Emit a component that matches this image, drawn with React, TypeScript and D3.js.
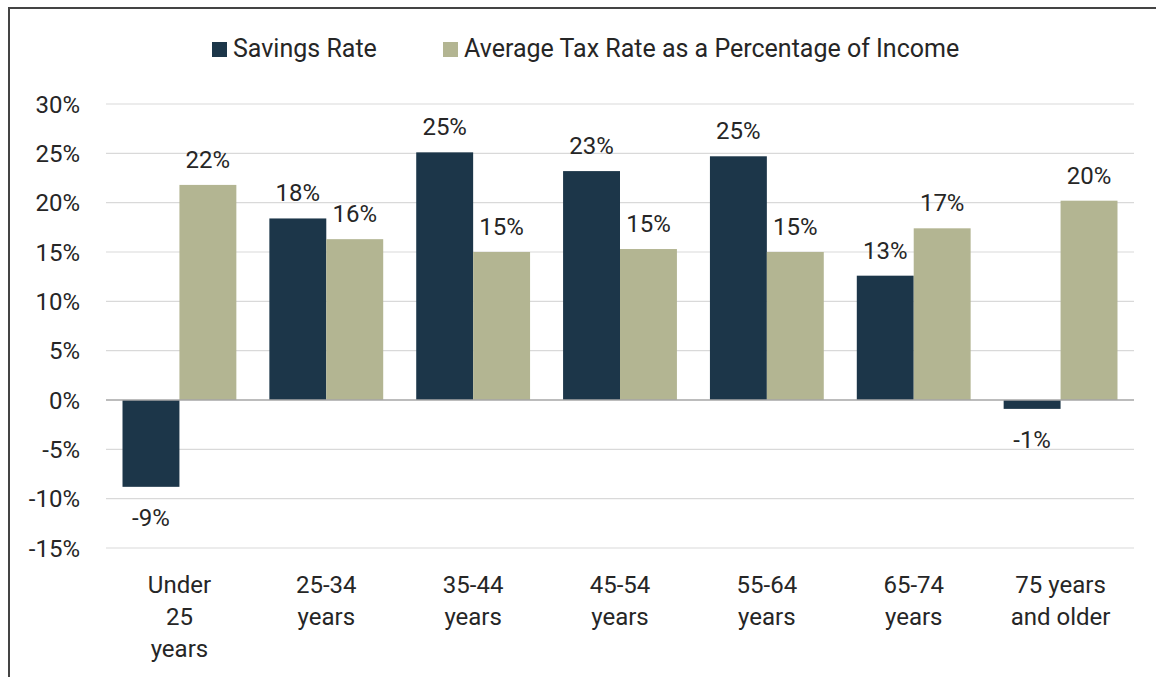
import { useRef, useEffect } from "react";
import * as d3 from "d3";

const categories = [
  "Under 25 years",
  "25-34 years",
  "35-44 years",
  "45-54 years",
  "55-64 years",
  "65-74 years",
  "75 years and older",
];
// wrapped the way the reference breaks them
const categoryLines = [
  ["Under", "25", "years"],
  ["25-34", "years"],
  ["35-44", "years"],
  ["45-54", "years"],
  ["55-64", "years"],
  ["65-74", "years"],
  ["75 years", "and older"],
];
const seriesNames = ["Savings Rate", "Average Tax Rate as a Percentage of Income"];
const savingsRate = [-8.8, 18.4, 25.1, 23.2, 24.7, 12.6, -0.9];
const taxRate = [21.8, 16.3, 15.0, 15.3, 15.0, 17.4, 20.2];
const yTicks = [-15, -10, -5, 0, 5, 10, 15, 20, 25, 30];

const W = 1156;
const H = 677;
const colors = ["#1c3649", "#b3b592"];
const font = "Roboto, sans-serif";
const textColor = "#262626";

export default function App() {
  const ref = useRef<SVGSVGElement>(null);

  useEffect(() => {
    if (!ref.current) return;
    const svg = d3.select(ref.current);
    svg.selectAll("*").remove();

    const plot = { left: 106, right: 1134, top: 104, bottom: 548 };

    const y = d3.scaleLinear().domain([-15, 30]).range([plot.bottom, plot.top]);
    const x0 = d3.scaleBand<string>().domain(categories).range([plot.left, plot.right]);
    const x1 = d3
      .scaleBand<number>()
      .domain([0, 1])
      .range([0, x0.bandwidth()])
      .paddingInner(0)
      .paddingOuter(0.29);

    svg.append("rect").attr("width", W).attr("height", H).attr("fill", "#fff");

    // frame
    svg.append("line")
      .attr("x1", 9).attr("x2", W).attr("y1", 8).attr("y2", 8)
      .attr("stroke", "#444").attr("stroke-width", 2);
    svg.append("line")
      .attr("x1", 9).attr("x2", 9).attr("y1", 7).attr("y2", H)
      .attr("stroke", "#444").attr("stroke-width", 2);

    // grid
    svg.append("g")
      .selectAll("line")
      .data(yTicks.filter((t) => t !== 0))
      .join("line")
      .attr("x1", plot.left)
      .attr("x2", plot.right)
      .attr("y1", (d) => y(d))
      .attr("y2", (d) => y(d))
      .attr("stroke", "#d9d9d9")
      .attr("stroke-width", 1.2);

    // y tick labels
    svg.append("g")
      .selectAll("text")
      .data(yTicks)
      .join("text")
      .attr("x", 80)
      .attr("y", (d) => y(d))
      .attr("dy", "0.36em")
      .attr("text-anchor", "end")
      .style("font-family", font)
      .style("font-size", "24px")
      .style("fill", textColor)
      .text((d) => `${d}%`);

    // bars
    const series = [savingsRate, taxRate];
    series.forEach((vals, s) => {
      const g = svg.append("g");
      g.selectAll("rect")
        .data(vals)
        .join("rect")
        .attr("x", (_, i) => (x0(categories[i]) ?? 0) + (x1(s) ?? 0))
        .attr("width", x1.bandwidth())
        .attr("y", (d) => y(Math.max(0, d)))
        .attr("height", (d) => Math.abs(y(d) - y(0)))
        .attr("fill", colors[s]);
      g.selectAll("text")
        .data(vals)
        .join("text")
        .attr("x", (_, i) => (x0(categories[i]) ?? 0) + (x1(s) ?? 0) + x1.bandwidth() / 2)
        .attr("y", (d) => (d >= 0 ? y(d) - 17 : y(d) + 39))
        .attr("text-anchor", "middle")
        .style("font-family", font)
        .style("font-size", "24px")
        .style("fill", textColor)
        .text((d) => `${Math.round(d)}%`);
    });

    // zero line
    svg.append("line")
      .attr("x1", plot.left).attr("x2", plot.right)
      .attr("y1", y(0)).attr("y2", y(0))
      .attr("stroke", "#a6a6a6").attr("stroke-width", 1.5);

    // category labels
    const cg = svg.append("g");
    categories.forEach((c, i) => {
      const cx = (x0(c) ?? 0) + x0.bandwidth() / 2;
      const t = cg.append("text")
        .attr("text-anchor", "middle")
        .style("font-family", font)
        .style("font-size", "24px")
        .style("fill", textColor);
      categoryLines[i].forEach((line, j) => {
        t.append("tspan").attr("x", cx).attr("y", 593 + j * 32).text(line);
      });
    });

    // legend
    const legendX = [212, 443];
    const lg = svg.append("g");
    seriesNames.forEach((name, i) => {
      lg.append("rect")
        .attr("x", legendX[i]).attr("y", 42)
        .attr("width", 15).attr("height", 15)
        .attr("fill", colors[i]);
      lg.append("text")
        .attr("x", legendX[i] + 21).attr("y", 57)
        .style("font-family", font)
        .style("font-size", "25px")
        .style("fill", textColor)
        .text(name);
    });
  }, []);

  return (
    <svg
      ref={ref}
      width={W}
      height={H}
      style={{ position: "absolute", left: 0, top: 0, display: "block" }}
    />
  );
}
